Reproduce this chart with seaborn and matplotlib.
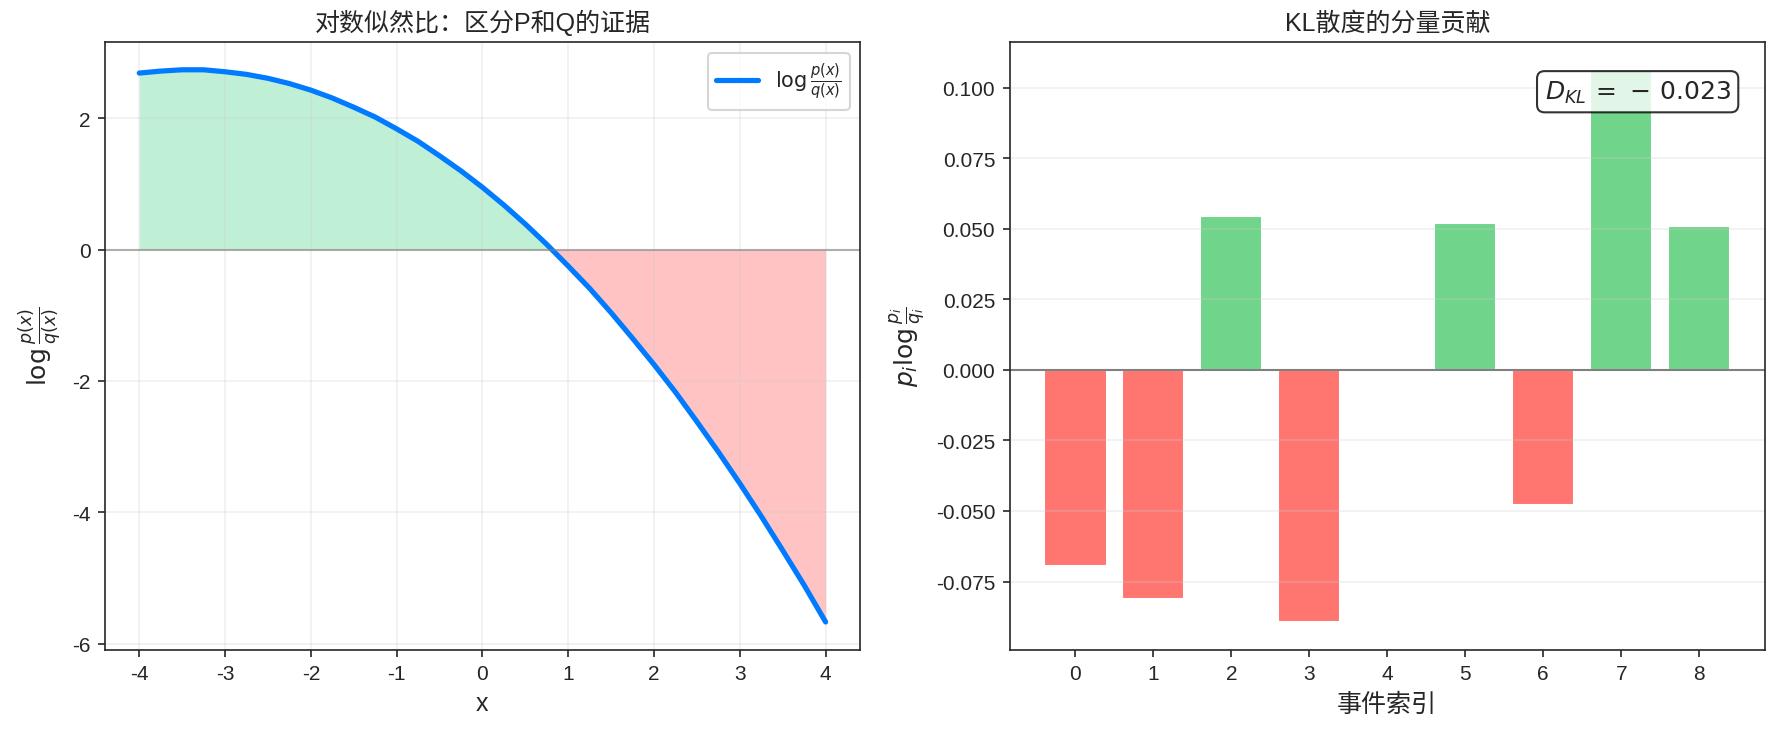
import numpy as np
import seaborn as sns
import matplotlib
matplotlib.use("Agg")
import matplotlib.pyplot as plt
import pandas as pd

# Log-likelihood ratio (x step 0.25)
x_vals = [-4.0, -3.75, -3.5, -3.25, -3.0, -2.75, -2.5, -2.25, -2.0, -1.75, -1.5,
          -1.25, -1.0, -0.75, -0.5, -0.25, 0.0, 0.25, 0.5, 0.75, 1.0, 1.25, 1.5,
          1.75, 2.0, 2.25, 2.5, 2.75, 3.0, 3.25, 3.5, 3.75, 4.0]
log_ratio = [2.69, 2.72, 2.74, 2.74, 2.71, 2.67, 2.61, 2.53, 2.43, 2.31, 2.17,
             2.02, 1.84, 1.65, 1.43, 1.20, 0.95, 0.68, 0.39, 0.08, -0.25, -0.59, -0.96,
             -1.35, -1.75, -2.17, -2.62, -3.08, -3.56, -4.06, -4.58, -5.11, -5.67]

# Per-event contributions p_i log(p_i/q_i)
event_idx = [0, 1, 2, 3, 4, 5, 6, 7, 8]
contrib = [-0.0695, -0.0812, 0.0545, -0.0893, 0.0, 0.0520, -0.0478, 0.1063, 0.0511]
dkl_text = '0.023'

sns.set_style("ticks")
plt.rcParams['font.family'] = ['Liberation Sans', 'Noto Sans CJK SC', 'DejaVu Sans']
plt.rcParams['axes.unicode_minus'] = False
plt.rcParams['axes.axisbelow'] = 'line'

df_curve = pd.DataFrame({'x': x_vals, 'llr': log_ratio})
df_bar = pd.DataFrame({'event': event_idx, 'contrib': contrib})

fig, (ax1, ax2) = plt.subplots(1, 2, figsize=(11.86, 4.873), dpi=150)
fig.subplots_adjust(left=0.059, right=0.992, top=0.941, bottom=0.11, wspace=0.1985)

# Left: log-likelihood ratio
xs = np.array(x_vals)
ys = np.array(log_ratio)
ax1.fill_between(xs, ys, 0, where=ys >= 0, interpolate=True, color='#2ecc71', alpha=0.3, lw=0)
ax1.fill_between(xs, ys, 0, where=ys <= 0, interpolate=True, color='#ff6b6b', alpha=0.4, lw=0)
sns.lineplot(data=df_curve, x='x', y='llr', ax=ax1, color='#007bff', lw=2.5,
             label=r'$\log\frac{p(x)}{q(x)}$')
ax1.axhline(0, color='gray', lw=1, alpha=0.6)
ax1.grid(True, alpha=0.3)
ax1.set_xlabel('x', fontsize=12)
ax1.set_ylabel(r'$\log\frac{p(x)}{q(x)}$', fontsize=12)
ax1.set_title('对数似然比：区分P和Q的证据', fontsize=12)
ax1.legend(loc='upper right', fontsize=10)
ax1.set_xticks(range(-4, 5))

# Right: KL components
bar_colors = ['#70d48a' if v > 0 else '#ff7570' for v in contrib]
ax2.bar(df_bar['event'], df_bar['contrib'], color=bar_colors, edgecolor='white',
        linewidth=1, width=0.8)
ax2.axhline(0, color='gray', lw=1)
ax2.grid(True, axis='y', alpha=0.3)
ax2.set_xticks(event_idx)
ax2.set_xlabel('事件索引', fontsize=12)
ax2.set_ylabel(r'$p_i\log\frac{p_i}{q_i}$', fontsize=12)
ax2.set_title('KL散度的分量贡献', fontsize=12)
ax2.text(0.955, 0.94, r'$D_{KL}\,=\,-\,' + dkl_text + '$', transform=ax2.transAxes,
         ha='right', va='top', fontsize=12,
         bbox=dict(boxstyle='round', facecolor='white', edgecolor='black', alpha=0.8))

plt.savefig('out.png', dpi=150)
